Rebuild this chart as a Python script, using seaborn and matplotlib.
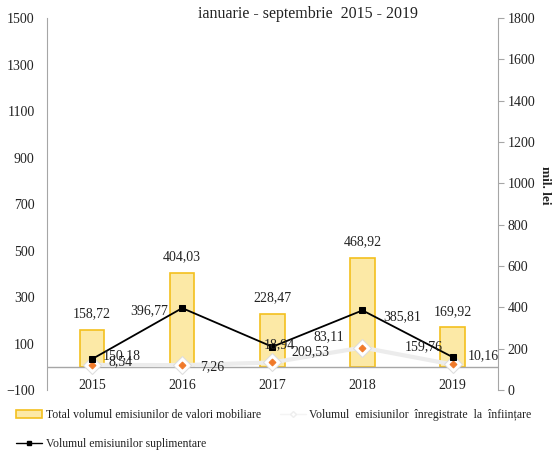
import numpy as np
import pandas as pd
import seaborn as sns
import matplotlib.pyplot as plt
from matplotlib.patches import Patch
from matplotlib.lines import Line2D

# --- data (mil. lei) ---
years = ["2015", "2016", "2017", "2018", "2019"]
total_vals = [158.72, 404.03, 228.47, 468.92, 169.92]
supl_vals = [150.18, 396.77, 209.53, 385.81, 159.76]
infiint_vals = [8.54, 7.26, 18.94, 83.11, 10.16]
total_labels = ["158,72", "404,03", "228,47", "468,92", "169,92"]
supl_labels = ["150,18", "396,77", "18,94", "385,81", "159,76"]
infiint_labels = ["8,54", "7,26", "209,53", "83,11", "10,16"]

sns.set_style("white")
plt.rcParams['font.family'] = ['Liberation Serif', 'DejaVu Serif']
txt = "#222222"
gray = "#a6a6a6"

fig = plt.figure(figsize=(5.53, 4.51), dpi=100)
ax = fig.add_axes([0.085, 0.135, 0.815, 0.825])
ax2 = ax.twinx()

df = pd.DataFrame({"An": years, "Total": total_vals,
                   "Supl": supl_vals, "Infiint": infiint_vals})
pos = np.arange(len(years))

# bars on left axis
sns.barplot(data=df, x="An", y="Total", ax=ax, width=0.27,
            color="#fce9a6", edgecolor="#f3c01e", linewidth=1.2, saturation=1)
ax.axhline(0, color=gray, lw=1, zorder=1)

# white line with diamonds (left axis)
sns.lineplot(x=pos, y=df["Infiint"], ax=ax, color="#ececec", lw=3,
             marker="D", markersize=9, markerfacecolor="white",
             markeredgecolor="#dddddd", zorder=4)
sns.lineplot(x=pos, y=df["Infiint"], ax=ax, color="none", lw=0,
             marker="D", markersize=3.5, markerfacecolor="#f07a2a",
             markeredgecolor="#f07a2a", zorder=5)

# black line (right axis)
sns.lineplot(x=pos, y=df["Supl"], ax=ax2, color="black", lw=1.3,
             marker="s", markersize=5, markeredgecolor="black", zorder=5)

ax.set_ylim(-100, 1500)
ax.set_yticks(range(-100, 1501, 200))
ax2.set_ylim(0, 1800)
ax2.set_yticks(range(0, 1801, 200))
ax.set_xlim(-0.5, 4.5)
ax.set_xlabel("")
ax.set_ylabel("")
ax2.set_ylabel("mil. lei", rotation=-90, fontsize=9.5,
               color=txt, fontweight="bold", va="center")
ax2.yaxis.set_label_coords(1.104, 0.55)

for a in (ax, ax2):
    for s in ("top", "bottom"):
        a.spines[s].set_visible(False)
    a.spines["left"].set_color(gray)
    a.spines["right"].set_color(gray)
ax.spines["right"].set_visible(False)
ax2.spines["left"].set_visible(False)

ax.tick_params(axis="y", length=0, labelsize=10, labelcolor=txt, pad=9)
ax.tick_params(axis="x", length=0, labelsize=10, labelcolor=txt, pad=-8)
ax2.tick_params(axis="y", length=4, color=gray, labelsize=10,
                labelcolor=txt, pad=3)

# data labels
for i in range(len(years)):
    ax.annotate(total_labels[i], (pos[i], total_vals[i]), xytext=(0, 16),
                textcoords="offset pixels", ha="center", va="center",
                fontsize=10, color=txt)

supl_off = [(30, 3), (-33, -3), (7, 2), (40, -6), (-29, 10)]
for i in range(len(years)):
    ax2.annotate(supl_labels[i], (pos[i], supl_vals[i]), xytext=supl_off[i],
                 textcoords="offset pixels", ha="center", va="center",
                 fontsize=10, color=txt, zorder=6)

inf_off = [(28, 3), (30, -2), (38, 11), (-34, 11), (31, 9)]
for i in range(len(years)):
    ax.annotate(infiint_labels[i], (pos[i], infiint_vals[i]), xytext=inf_off[i],
                textcoords="offset pixels", ha="center", va="center",
                fontsize=10, color=txt, zorder=6)

fig.text(0.557, 0.969, "ianuarie - septembrie  2015 - 2019", ha="center",
         va="center", fontsize=11.5, color=txt)

handles = [
    Patch(facecolor="#fce9a6", edgecolor="#f3c01e", linewidth=1.2),
    Line2D([], [], color="black", lw=1, marker="s", markersize=3.5),
    Line2D([], [], color="#f4f4f4", lw=1, marker="D", markersize=3,
           markerfacecolor="white", markeredgecolor="#eeeeee"),
]
labels = ["Total volumul emisiunilor de valori mobiliare",
          "Volumul emisiunilor suplimentare",
          "Volumul  emisiunilor  înregistrate  la  înființare"]
fig.legend(handles, labels, ncol=2, loc="lower left",
           bbox_to_anchor=(0.01, -0.022), frameon=False, fontsize=8.5,
           handlelength=2.2, handletextpad=0.3, columnspacing=1.6,
           labelspacing=1.45, labelcolor=txt)

fig.savefig("out.png", dpi=100)
